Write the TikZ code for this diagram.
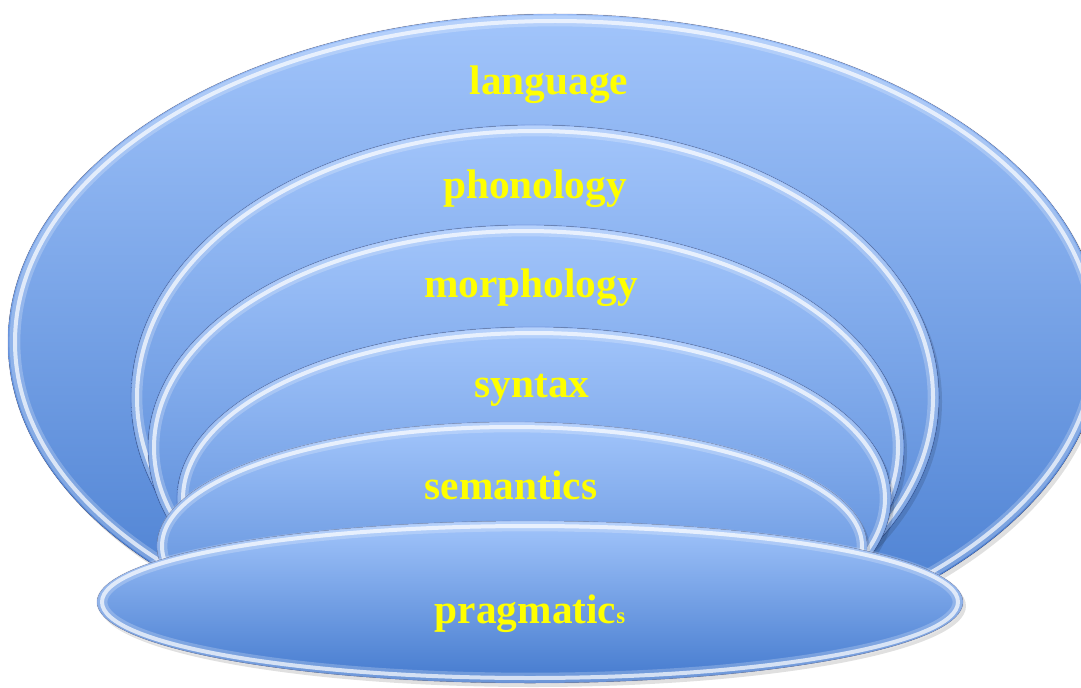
\documentclass[tikz,border=0pt]{standalone}
\usepackage{fontspec}
\setmainfont{Liberation Serif}
\definecolor{ltop}{RGB}{162,197,251}
\definecolor{lbot}{RGB}{68,122,206}
\definecolor{txt}{RGB}{255,255,0}
\newcommand\bevelell[5]{%
  \fill[black,opacity=.12] (#1+3,#2+4) ellipse [x radius=#3, y radius=#4];
  \fill[top color=ltop, bottom color=lbot] (#1,#2) ellipse [x radius=#3, y radius=#4];
  \draw[black!60!blue,opacity=.08,line width=1] (#1,#2) ellipse [x radius=#3, y radius=#4];
  \draw[white,opacity=.22,line width=8] (#1,#2) ellipse [x radius=#3-#5, y radius=#4-#5];
  \draw[white,opacity=.7,line width=3] (#1,#2) ellipse [x radius=#3-#5, y radius=#4-#5];
}
\begin{document}
\begin{tikzpicture}[x=0.75pt,y=-0.75pt,
  lbl/.style={text=txt, font=\bfseries\fontsize{31}{31}\selectfont, anchor=base, inner sep=0pt}]
\useasboundingbox (0,0) rectangle (1081,688);
\clip (0,0) rectangle (1081,688);
% language
\bevelell{555}{342}{547}{328}{7}
% phonology
\bevelell{535}{397.5}{404}{272.5}{6}
% morphology
\bevelell{526}{447.5}{378}{222.5}{6}
% syntax
\bevelell{534}{498.5}{357}{171.5}{6}
% semantics
\bevelell{512}{546}{355}{124}{5}
% pragmatics
\bevelell{530}{602}{433}{81}{5}
\node[lbl] (language) at (549,95) {language};
\node[lbl] (phonology) at (535,199) {phonology};
\node[lbl] (morphology) at (531,297) {morphology};
\node[lbl] (syntax) at (532,397) {syntax};
\node[lbl] (semantics) at (511,499) {semantics};
\node[lbl] (pragmatics) at (530,623) {pragmatic{\fontsize{17}{17}\selectfont s}};
\end{tikzpicture}
\end{document}
